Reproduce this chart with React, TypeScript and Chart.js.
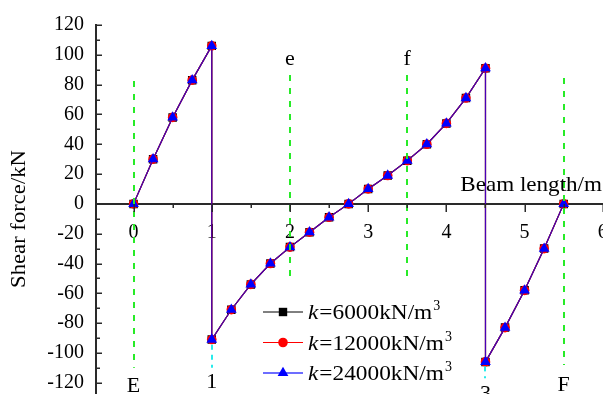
import React, { useEffect, useRef } from 'react';
import { Chart, registerables } from 'chart.js';

Chart.register(...registerables);

// Beam positions (m); the supports at x = 1 and x = 4.5 carry a jump, so they appear twice.
const BEAM_X = [0, 0.25, 0.5, 0.75, 1, 1, 1.25, 1.5, 1.75, 2, 2.25, 2.5, 2.75, 3, 3.25, 3.5, 3.75, 4, 4.25, 4.5, 4.5, 4.75, 5, 5.25, 5.5];

// Shear force (kN) for each foundation stiffness
const SHEAR_K6000 = [0, 30, 58, 83, 106, -91, -71, -54, -40, -29, -19, -9, 0, 10, 19, 29, 40, 54, 71, 91, -106, -83, -58, -30, 0];
const SHEAR_K12000 = [0, 30, 58, 83, 106, -91, -71, -54, -40, -29, -19, -9, 0, 10, 19, 29, 40, 54, 71, 91, -106, -83, -58, -30, 0];
const SHEAR_K24000 = [0, 30, 58, 83, 106, -91, -71, -54, -40, -29, -19, -9, 0, 10, 19, 29, 40, 54, 71, 91, -106, -83, -58, -30, 0];

const STIFFNESS = ['6000', '12000', '24000'];

const X_TICKS = [0, 1, 2, 3, 4, 5, 6];
const Y_TICKS = [-120, -100, -80, -60, -40, -20, 0, 20, 40, 60, 80, 100, 120];

// Section marker lines (green) and their labels
const GUIDE_X = [0, 2, 3.5, 5.5];
const GUIDE_TOP = [82.5, 86.5, 86.5, 84.5];
const GUIDE_BOTTOM = [-110, -52, -53, -108];
const GUIDE_NAMES = ['E', 'e', 'f', 'F'];
const GUIDE_NAME_Y = [-126, 93, 93, -125.5];

// Support markers (cyan) and their labels
const SUPPORT_X = [1, 4.5];
const SUPPORT_TOP = [-94.5, -109];
const SUPPORT_BOTTOM = [-110, -117];
const SUPPORT_NAMES = ['1', '3'];
const SUPPORT_NAME_Y = [-123.5, -131.5];

const SERIF = "'Times New Roman', 'Liberation Serif', serif";
const AXIS_COLOR = '#2a2a2a';
const GREEN = 'rgb(40,235,40)';
const CYAN = 'rgb(40,235,235)';

const SERIES_COLORS = ['#000000', '#ff0000', '#0000ff'];
const LINE_COLORS = ['#000000', '#ff0000', 'rgba(0,0,255,0.72)'];
const SERIES_SHAPES = ['rect', 'circle', 'triangle'];

function drawMarker(ctx: CanvasRenderingContext2D, shape: string, x: number, y: number, color: string) {
  ctx.fillStyle = color;
  ctx.beginPath();
  if (shape === 'rect') {
    ctx.rect(x - 4.2, y - 4.2, 8.4, 8.4);
  } else if (shape === 'circle') {
    ctx.arc(x, y, 4.8, 0, Math.PI * 2);
  } else {
    const r = 6.2;
    ctx.moveTo(x, y - r);
    ctx.lineTo(x + r * Math.sin((2 * Math.PI) / 3), y - r * Math.cos((2 * Math.PI) / 3));
    ctx.lineTo(x + r * Math.sin((4 * Math.PI) / 3), y - r * Math.cos((4 * Math.PI) / 3));
    ctx.closePath();
  }
  ctx.fill();
}

function label(ctx: CanvasRenderingContext2D, s: string, x: number, y: number, font: string, align: CanvasTextAlign = 'center', sx = 1) {
  ctx.save();
  ctx.font = font;
  ctx.fillStyle = '#000';
  ctx.textAlign = align;
  ctx.textBaseline = 'alphabetic';
  ctx.translate(x, y);
  ctx.scale(sx, 1);
  ctx.fillText(s, 0, 0);
  ctx.restore();
}

const overlayPlugin = {
  id: 'beamOverlay',
  afterDatasetsDraw(chart: any) {
    const { ctx, scales } = chart;
    const xs = scales.x;
    const ys = scales.y;
    ctx.save();
    ctx.lineWidth = 2;
    ctx.setLineDash([6, 7]);
    ctx.strokeStyle = GREEN;
    GUIDE_X.forEach((gx: number, i: number) => {
      const px = Math.round(xs.getPixelForValue(gx));
      ctx.beginPath();
      ctx.moveTo(px, ys.getPixelForValue(GUIDE_TOP[i]));
      ctx.lineTo(px, ys.getPixelForValue(GUIDE_BOTTOM[i]));
      ctx.stroke();
    });
    ctx.setLineDash([5, 5]);
    ctx.strokeStyle = CYAN;
    SUPPORT_X.forEach((sxv: number, i: number) => {
      const px = Math.round(xs.getPixelForValue(sxv));
      ctx.beginPath();
      ctx.moveTo(px, ys.getPixelForValue(SUPPORT_TOP[i]));
      ctx.lineTo(px, ys.getPixelForValue(SUPPORT_BOTTOM[i]));
      ctx.stroke();
    });
    ctx.restore();
  },
  afterDraw(chart: any) {
    const { ctx, scales, chartArea } = chart;
    const xs = scales.x;
    const ys = scales.y;
    ctx.save();

    // inward ticks on the shear axis, outward ticks on the beam axis
    ctx.strokeStyle = AXIS_COLOR;
    ctx.lineWidth = 1.5;
    const left = chartArea.left;
    for (let v = -120; v <= 120; v += 10) {
      const py = Math.round(ys.getPixelForValue(v)) + 0.25;
      const len = v % 20 === 0 ? 6 : 4;
      ctx.beginPath();
      ctx.moveTo(left, py);
      ctx.lineTo(left + len, py);
      ctx.stroke();
    }
    const y0 = ys.getPixelForValue(0);
    for (let v = 0; v <= 6; v += 0.5) {
      const px = Math.round(xs.getPixelForValue(v)) + 0.25;
      const len = Number.isInteger(v) ? 8 : 4;
      ctx.beginPath();
      ctx.moveTo(px, y0);
      ctx.lineTo(px, y0 + len);
      ctx.stroke();
    }

    // section and support names
    GUIDE_X.forEach((gx: number, i: number) => {
      label(ctx, GUIDE_NAMES[i], xs.getPixelForValue(gx), ys.getPixelForValue(GUIDE_NAME_Y[i]), `22px ${SERIF}`);
    });
    SUPPORT_X.forEach((sxv: number, i: number) => {
      label(ctx, SUPPORT_NAMES[i], xs.getPixelForValue(sxv), ys.getPixelForValue(SUPPORT_NAME_Y[i]), `22px ${SERIF}`);
    });

    // axis titles
    label(ctx, 'Beam length/m', 602, y0 - 13, `22px ${SERIF}`, 'right', 1.05);
    ctx.save();
    ctx.translate(25, 219);
    ctx.rotate(-Math.PI / 2);
    label(ctx, 'Shear force/kN', 0, 0, `22px ${SERIF}`, 'center', 1.03);
    ctx.restore();

    // legend
    const rows = [312, 342.5, 373];
    STIFFNESS.forEach((k: string, i: number) => {
      const cy = rows[i];
      ctx.strokeStyle = i === 2 ? 'rgba(60,60,255,0.75)' : SERIES_COLORS[i];
      ctx.lineWidth = i === 2 ? 2 : 1;
      ctx.beginPath();
      ctx.moveTo(263, cy);
      ctx.lineTo(303, cy);
      ctx.stroke();
      drawMarker(ctx, SERIES_SHAPES[i], 283, cy, SERIES_COLORS[i]);
      const base = cy + 7;
      ctx.font = `italic 22px ${SERIF}`;
      const kw = ctx.measureText('k').width * 1.06;
      label(ctx, 'k', 308, base, `italic 22px ${SERIF}`, 'left', 1.06);
      const body = `=${k}kN/m`;
      ctx.font = `22px ${SERIF}`;
      const bw = ctx.measureText(body).width * 1.06;
      label(ctx, body, 308 + kw + 1, base, `22px ${SERIF}`, 'left', 1.06);
      label(ctx, '3', 308 + kw + 1 + bw + 1, base - 9, `14px ${SERIF}`, 'left');
    });

    ctx.restore();
  },
};

function seriesData(values: number[]) {
  return BEAM_X.map((x, i) => ({ x, y: values[i] }));
}

export default function App() {
  const canvasRef = useRef<HTMLCanvasElement | null>(null);

  useEffect(() => {
    const canvas = canvasRef.current;
    if (!canvas) return;
    const allSeries = [SHEAR_K6000, SHEAR_K12000, SHEAR_K24000];
    const chart = new Chart(canvas, {
      type: 'line',
      data: {
        datasets: allSeries.map((values, i) => ({
          label: `k=${STIFFNESS[i]}kN/m3`,
          data: seriesData(values),
          borderColor: LINE_COLORS[i],
          backgroundColor: SERIES_COLORS[i],
          pointBackgroundColor: SERIES_COLORS[i],
          pointBorderColor: SERIES_COLORS[i],
          borderWidth: 1.2,
          pointStyle: SERIES_SHAPES[i],
          pointRadius: i === 0 ? 6 : i === 1 ? 4.8 : 6.2,
          pointBorderWidth: 0,
          tension: 0,
          fill: false,
          order: 3 - i,
        })),
      },
      plugins: [overlayPlugin],
      options: {
        animation: false,
        responsive: false,
        events: [],
        layout: { padding: { top: 25, left: 0, right: 0, bottom: 0 } },
        plugins: {
          legend: { display: false },
          tooltip: { enabled: false },
        },
        scales: {
          x: {
            type: 'linear',
            position: { y: 0 },
            min: -0.48,
            max: 6,
            afterBuildTicks: (scale: any) => {
              scale.ticks = X_TICKS.map((value) => ({ value }));
            },
            afterFit: (scale: any) => {
              scale.paddingLeft = 0;
              scale.paddingRight = 0;
              scale.paddingTop = 0;
              scale.paddingBottom = 0;
            },
            grid: { display: true, drawOnChartArea: false, drawTicks: false },
            border: { display: true, color: AXIS_COLOR, width: 2 },
            ticks: {
              padding: 17,
              color: '#000',
              maxRotation: 0,
              autoSkip: false,
              font: { family: SERIF, size: 20 },
              callback: (v: any) => String(v),
            },
          },
          y: {
            type: 'linear',
            position: 'left',
            min: -127.4,
            max: 120,
            afterBuildTicks: (scale: any) => {
              scale.ticks = Y_TICKS.map((value) => ({ value }));
            },
            afterFit: (scale: any) => {
              scale.width = 96;
              scale.paddingTop = 0;
              scale.paddingBottom = 0;
            },
            grid: { display: true, drawOnChartArea: false, drawTicks: false },
            border: { display: true, color: AXIS_COLOR, width: 2 },
            ticks: {
              padding: 12,
              color: '#000',
              autoSkip: false,
              font: { family: SERIF, size: 20 },
              callback: (v: any) => String(v),
            },
          },
        },
      },
    } as any);
    return () => chart.destroy();
  }, []);

  return (
    <div style={{ position: 'fixed', left: 0, top: 0, width: 603, height: 394, overflow: 'hidden', background: '#fff' }}>
      <canvas ref={canvasRef} width={609} height={400} style={{ display: 'block', width: 609, height: 400 }} />
    </div>
  );
}
